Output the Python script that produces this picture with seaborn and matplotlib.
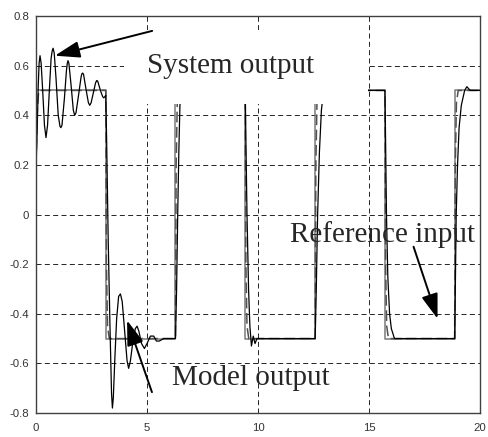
import matplotlib
matplotlib.use("Agg")
import matplotlib.pyplot as plt
from matplotlib.patches import Rectangle
import seaborn as sns

# Square-wave reference: switching instants and the level held after each one
switch_times = [0.0, 3.14, 6.28, 9.42, 12.57, 15.71, 18.85]
switch_levels = [0.5, -0.5, 0.5, -0.5, 0.5, -0.5, 0.5]
t_end = 20.0

# Model output (fast first-order tracking of the reference)
model_t = [0.00, 0.06, 0.12, 3.14, 3.17, 3.22, 3.30, 6.28, 6.31, 6.36, 6.44,
           9.42, 9.45, 9.50, 9.58, 12.57, 12.60, 12.65, 12.73, 15.71, 15.74,
           15.79, 15.87, 18.85, 18.88, 18.93, 19.01, 20.00]
model_y = [0.20, 0.42, 0.50, 0.50, -0.20, -0.45, -0.50, -0.50, 0.20, 0.45, 0.50,
           0.50, -0.20, -0.45, -0.50, -0.50, 0.20, 0.45, 0.50, 0.50, -0.20,
           -0.45, -0.50, -0.50, 0.20, 0.45, 0.50, 0.50]

# System output (adaptive loop, oscillatory at first, then converging)
sys_t = [0.00, 0.05, 0.10, 0.14, 0.18, 0.23, 0.30, 0.38, 0.45, 0.52, 0.60, 0.68,
         0.73, 0.77, 0.82, 0.90, 1.00, 1.08, 1.12, 1.17, 1.28, 1.37, 1.41, 1.44,
         1.48, 1.58, 1.68, 1.74, 1.80, 1.93, 2.03, 2.07, 2.10, 2.14, 2.26, 2.36,
         2.42, 2.48, 2.58, 2.68, 2.72, 2.74, 2.78, 2.90, 3.00, 3.05, 3.10, 3.14,
         3.18, 3.25, 3.33, 3.40, 3.44, 3.48, 3.55, 3.63, 3.72, 3.80, 3.88, 4.00,
         4.10, 4.17, 4.25, 4.35, 4.47, 4.55, 4.63, 4.75, 4.88, 5.00, 5.15, 5.30,
         5.42, 5.55, 5.75, 6.28,
         6.33, 6.38, 6.43, 6.48, 6.55, 9.42,
         9.45, 9.50, 9.57, 9.63, 9.70, 9.78, 9.86, 9.95, 12.57,
         12.62, 12.68, 12.76, 12.85, 12.95, 15.71,
         15.74, 15.78, 15.84, 15.92, 16.00, 16.14, 18.85,
         18.88, 18.92, 18.98, 19.05, 19.15, 19.30, 19.40, 19.55, 20.00]
sys_y = [0.19, 0.33, 0.52, 0.61, 0.64, 0.61, 0.50, 0.36, 0.31, 0.36, 0.50, 0.63,
         0.66, 0.67, 0.65, 0.55, 0.40, 0.355, 0.35, 0.36, 0.47, 0.58, 0.61, 0.62,
         0.61, 0.52, 0.42, 0.40, 0.41, 0.49, 0.555, 0.568, 0.57, 0.565, 0.50, 0.45,
         0.44, 0.45, 0.49, 0.53, 0.538, 0.54, 0.537, 0.50, 0.475, 0.47, 0.475, 0.48,
         0.30, -0.10, -0.45, -0.72, -0.78, -0.74, -0.58, -0.42, -0.33, -0.32, -0.35, -0.48,
         -0.59, -0.62, -0.59, -0.52, -0.46, -0.45, -0.47, -0.52, -0.54, -0.52, -0.49, -0.49,
         -0.51, -0.51, -0.50, -0.50,
         -0.30, 0.00, 0.25, 0.44, 0.50, 0.50,
         0.30, 0.00, -0.30, -0.45, -0.53, -0.49, -0.52, -0.50, -0.50,
         -0.30, 0.00, 0.25, 0.42, 0.50, 0.50,
         0.30, 0.00, -0.25, -0.40, -0.46, -0.50, -0.50,
         -0.30, 0.00, 0.20, 0.35, 0.44, 0.50, 0.515, 0.50, 0.50]

x_ticks = [0, 5, 10, 15, 20]
y_ticks = [-0.8, -0.6, -0.4, -0.2, 0, 0.2, 0.4, 0.6, 0.8]
y_ticklabels = ["-0.8", "-0.6", "-0.4", "-0.2", "0", "0.2", "0.4", "0.6", "0.8"]

# Expand the switching table into a stair line
ref_t, ref_y = [], []
for i, (t0, lv) in enumerate(zip(switch_times, switch_levels)):
    t1 = switch_times[i + 1] if i + 1 < len(switch_times) else t_end
    ref_t += [t0, t1]
    ref_y += [lv, lv]

sns.set_style("white")
plt.rcParams["font.family"] = ["Liberation Sans", "DejaVu Sans"]

fig = plt.figure(figsize=(4.88, 4.37), dpi=100)
ax = fig.add_axes([0.0738, 0.0549, 0.9102, 0.9085])

sns.lineplot(x=ref_t, y=ref_y, ax=ax, sort=False, estimator=None,
             color="#7a7a7a", linewidth=1.1, zorder=2)
sns.lineplot(x=model_t, y=model_y, ax=ax, sort=False, estimator=None,
             color="#505050", linewidth=1.1, linestyle=(0, (7, 3)), zorder=2)
sns.lineplot(x=sys_t, y=sys_y, ax=ax, sort=False, estimator=None,
             color="black", linewidth=0.9, zorder=2.2)

ax.set_xlim(0, 20)
ax.set_ylim(-0.8, 0.8)
ax.set_xticks(x_ticks)
ax.set_xticklabels([str(v) for v in x_ticks])
ax.set_yticks(y_ticks)
ax.set_yticklabels(y_ticklabels)
ax.set_xlabel("")
ax.set_ylabel("")
ax.tick_params(axis="both", length=0, labelsize=8.2, colors="#333333")
ax.tick_params(axis="y", pad=5)
ax.tick_params(axis="x", pad=7)

ax.set_axisbelow(True)
ax.grid(True, color="black", linewidth=0.6, linestyle=(0, (6, 4)))
for s in ax.spines.values():
    s.set_color("#404040")
    s.set_linewidth(1.0)

# White backing behind the upper label
ax.add_patch(Rectangle((3.98, 0.444), 10.96, 0.298, facecolor="white",
                       edgecolor="none", zorder=3))

serif = ["Liberation Serif", "DejaVu Serif"]
ax.text(5.0, 0.60, "System output", fontsize=21, family=serif,
        ha="left", va="center", zorder=5)
ax.text(6.13, -0.66, "Model output", fontsize=21, family=serif,
        ha="left", va="center", zorder=5)
ax.text(11.45, -0.08, "Reference input", fontsize=21, family=serif,
        ha="left", va="center", zorder=5)

arrow = dict(arrowstyle="-|>,head_length=0.9,head_width=0.3", lw=1.4,
             color="black", shrinkA=0, shrinkB=0, mutation_scale=17)
ax.annotate("", xy=(0.85, 0.64), xytext=(5.23, 0.74), arrowprops=arrow,
            zorder=6, annotation_clip=False)
ax.annotate("", xy=(4.1, -0.427), xytext=(5.22, -0.716), arrowprops=arrow, zorder=6)
ax.annotate("", xy=(18.08, -0.42), xytext=(17.0, -0.13), arrowprops=arrow, zorder=6)

fig.savefig("out.png", dpi=100)
